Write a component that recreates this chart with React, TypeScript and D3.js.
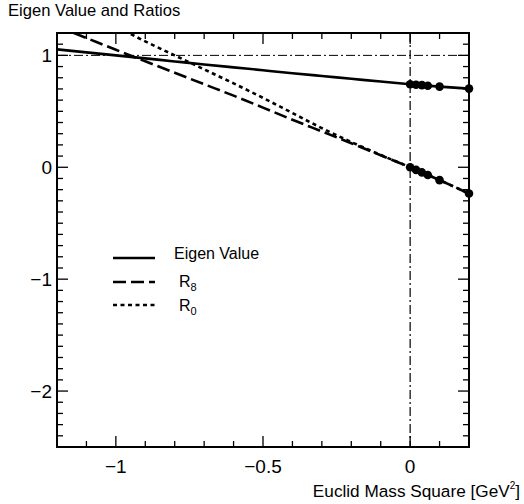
import React from "react";
import * as d3 from "d3";

const xGrid = [-1.2, -1.1, -1.0, -0.9, -0.8, -0.7, -0.6, -0.5, -0.4, -0.3, -0.2, -0.1, 0.0, 0.1, 0.2];
const eigenValues = [1.054, 1.027, 1.0, 0.973, 0.946, 0.919, 0.893, 0.867, 0.841, 0.816, 0.791, 0.766, 0.742, 0.721, 0.703];
const r8Values = [1.26, 1.155, 1.05, 0.947, 0.845, 0.742, 0.64, 0.533, 0.425, 0.32, 0.215, 0.107, 0.0, -0.115, -0.235];
const r0Values = [1.52, 1.39, 1.26, 1.125, 1.0, 0.875, 0.75, 0.62, 0.485, 0.35, 0.226, 0.11, 0.0, -0.115, -0.235];

const dotX = [0.0, 0.02, 0.04, 0.06, 0.1, 0.2];
const dotEigen = [0.742, 0.738, 0.734, 0.729, 0.721, 0.703];
const dotR8 = [0.0, -0.023, -0.046, -0.069, -0.115, -0.235];

const xMajorTicks = [-1, -0.5, 0];
const xTickLabels = ["\u22121", "\u22120.5", "0"];
const yMajorTicks = [1, 0, -1, -2];
const yTickLabels = ["1", "0", "\u22121", "\u22122"];

const W = 524, H = 504;
const L = 57, R = 469, T = 33, B = 447;

export default function App() {
  const x = d3.scaleLinear().domain([-1.2, 0.2]).range([L, R]);
  const y = d3.scaleLinear().domain([-2.5, 1.2]).range([B, T]);
  const line = d3.line<[number, number]>().x(d => x(d[0])).y(d => y(d[1])).curve(d3.curveMonotoneX);
  const mk = (vals: number[]) => line(xGrid.map((v, i) => [v, vals[i]] as [number, number])) || "";

  const xMinor = d3.range(-12, 3).map(i => i / 10);
  const yMinor = d3.range(-25, 13).map(i => i / 10);
  const font = "'Liberation Sans', Arial, Helvetica, sans-serif";

  return (
    <svg width={W} height={H} style={{ position: "absolute", left: 0, top: 0, background: "#fff" }} fontFamily={font}>
      <defs>
        <clipPath id="plot"><rect x={L} y={T} width={R - L} height={B - T} /></clipPath>
      </defs>
      <rect x={0} y={0} width={W} height={H} fill="#fff" />
      <text x={8} y={16} fontSize={16.6} fill="#000">Eigen Value and Ratios</text>

      <g clipPath="url(#plot)" fill="none" stroke="#000">
        <line x1={L} x2={R} y1={y(1)} y2={y(1)} strokeWidth={1} strokeDasharray="9 3 2 3" />
        <line x1={x(0)} x2={x(0)} y1={T} y2={B} strokeWidth={1.2} strokeDasharray="9 3 2 3" />
        <path d={mk(eigenValues)} strokeWidth={2.6} />
        <path d={mk(r8Values)} strokeWidth={2.6} strokeDasharray="13 5" />
        <path d={mk(r0Values)} strokeWidth={2.6} strokeDasharray="4 3.5" />
      </g>
      <g fill="#000">
        {dotX.map((v, i) => <circle key={"e" + i} cx={x(v)} cy={y(dotEigen[i])} r={4.3} />)}
        {dotX.map((v, i) => <circle key={"r" + i} cx={x(v)} cy={y(dotR8[i])} r={4.3} />)}
      </g>

      <g stroke="#000" strokeWidth={1.3}>
        {xMinor.map((v, i) => {
          const major = xMajorTicks.some(m => Math.abs(m - v) < 1e-6);
          const len = major ? 11 : 6;
          return (
            <g key={"xt" + i}>
              <line x1={x(v)} x2={x(v)} y1={B} y2={B - len} />
              <line x1={x(v)} x2={x(v)} y1={T} y2={T + len} />
            </g>
          );
        })}
        {yMinor.map((v, i) => {
          const major = yMajorTicks.some(m => Math.abs(m - v) < 1e-6);
          const len = major ? 11 : 6;
          return (
            <g key={"yt" + i}>
              <line x1={L} x2={L + len} y1={y(v)} y2={y(v)} />
              <line x1={R} x2={R - len} y1={y(v)} y2={y(v)} />
            </g>
          );
        })}
      </g>
      <rect x={L} y={T} width={R - L} height={B - T} fill="none" stroke="#000" strokeWidth={2} />

      <g fontSize={19} fill="#000">
        {xMajorTicks.map((v, i) => (
          <text key={"xl" + i} x={x(v)} y={473} textAnchor="middle">{xTickLabels[i]}</text>
        ))}
        {yMajorTicks.map((v, i) => (
          <text key={"yl" + i} x={52} y={y(v)} dy="0.35em" textAnchor="end">{yTickLabels[i]}</text>
        ))}
      </g>
      <text x={520} y={497} fontSize={17.2} textAnchor="end" fill="#000">
        Euclid Mass Square [GeV<tspan dy={-8} fontSize={10}>2</tspan><tspan dy={8}>]</tspan>
      </text>

      <g fill="none" stroke="#000" strokeWidth={2.6}>
        <line x1={113} x2={155} y1={258} y2={258} />
        <line x1={113} x2={155} y1={282} y2={282} strokeDasharray="13 5" />
        <line x1={113} x2={155} y1={305} y2={305} strokeDasharray="4 3.5" />
      </g>
      <g fontSize={16} fill="#000">
        <text x={174} y={259}>Eigen Value</text>
        <text x={179} y={287}>R<tspan dy={4} fontSize={11}>8</tspan></text>
        <text x={179} y={311}>R<tspan dy={4} fontSize={11}>0</tspan></text>
      </g>
    </svg>
  );
}
